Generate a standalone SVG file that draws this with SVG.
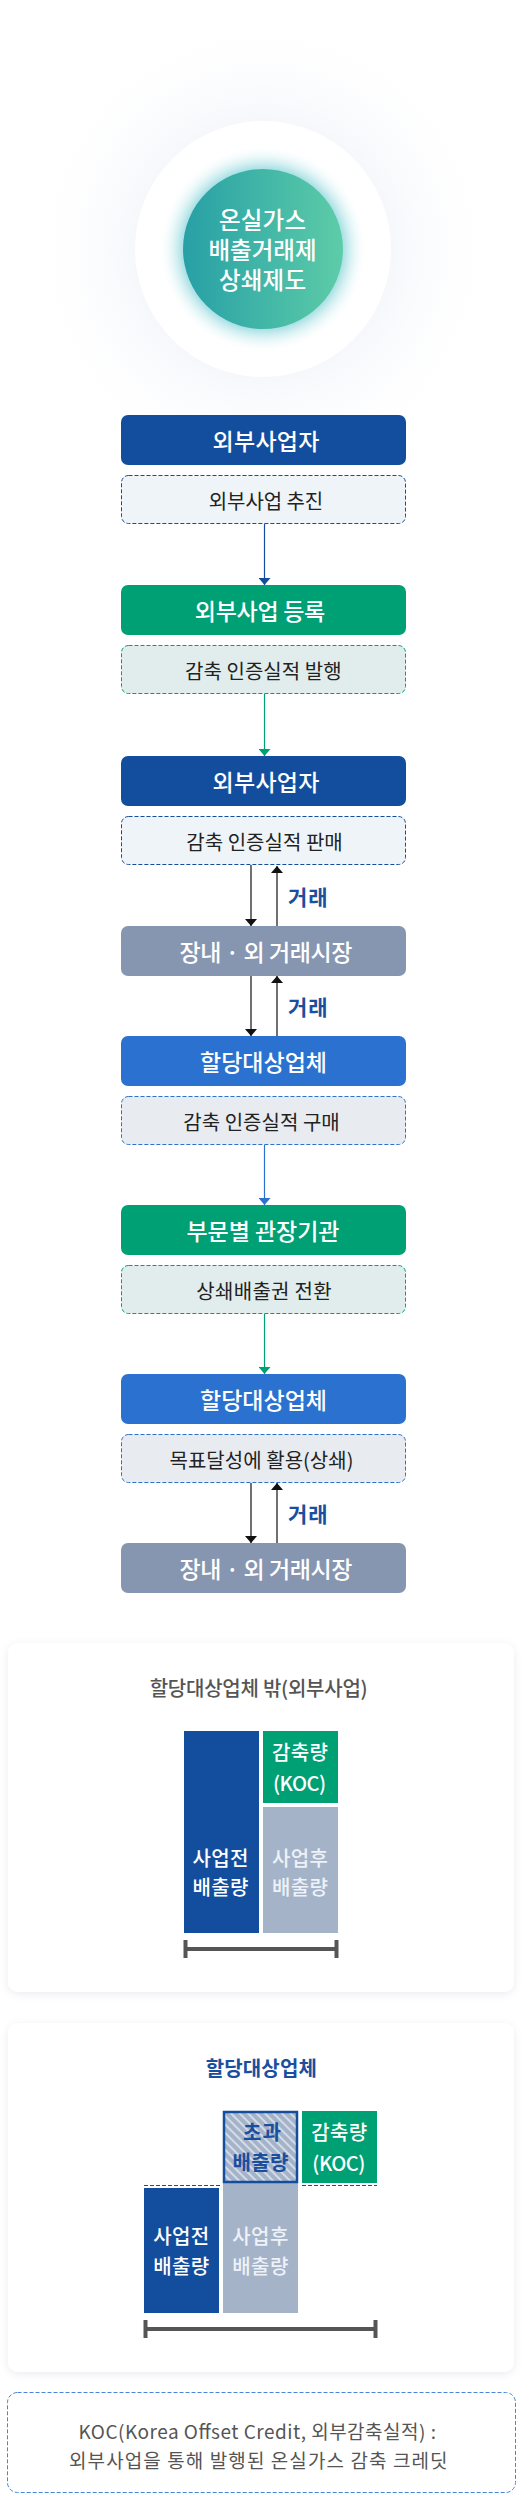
<svg xmlns="http://www.w3.org/2000/svg" width="529" height="2494" viewBox="0 0 529 2494">
<defs>
<radialGradient id="halo" cx="0.5" cy="0.5" r="0.5">
<stop offset="0.5" stop-color="#f4f6fb" stop-opacity="1"/>
<stop offset="1" stop-color="#ffffff" stop-opacity="0"/>
</radialGradient>
<radialGradient id="glow" cx="0.5" cy="0.5" r="0.5">
<stop offset="0.78" stop-color="#6ccbd3" stop-opacity="0.55"/>
<stop offset="1" stop-color="#ffffff" stop-opacity="0"/>
</radialGradient>
<linearGradient id="core" x1="0" y1="0" x2="1" y2="0">
<stop offset="0" stop-color="#27a0a6"/>
<stop offset="1" stop-color="#5dcca8"/>
</linearGradient>
<pattern id="hatch" width="6" height="6" patternUnits="userSpaceOnUse" patternTransform="rotate(-45)">
<rect width="6" height="6" fill="#a5b3c9"/>
<rect width="2" height="6" fill="#d3dbe7"/>
</pattern>
<filter id="shadow" x="-10%" y="-10%" width="120%" height="120%">
<feDropShadow dx="0" dy="2" stdDeviation="4" flood-color="#1a2a50" flood-opacity="0.08"/>
</filter>
<marker id="ahDark" viewBox="0 0 7 12" refX="7" refY="6" markerWidth="7" markerHeight="12" markerUnits="userSpaceOnUse" orient="auto"><path d="M0,0 L7,6 L0,12 z" fill="#134e9e"/></marker>
<marker id="ahGreen" viewBox="0 0 7 12" refX="7" refY="6" markerWidth="7" markerHeight="12" markerUnits="userSpaceOnUse" orient="auto"><path d="M0,0 L7,6 L0,12 z" fill="#00a075"/></marker>
<marker id="ahBlue" viewBox="0 0 7 12" refX="7" refY="6" markerWidth="7" markerHeight="12" markerUnits="userSpaceOnUse" orient="auto"><path d="M0,0 L7,6 L0,12 z" fill="#2b72d0"/></marker>
<marker id="ahBlack" viewBox="0 0 7 12" refX="7" refY="6" markerWidth="7" markerHeight="12" markerUnits="userSpaceOnUse" orient="auto"><path d="M0,0 L7,6 L0,12 z" fill="#111111"/></marker>
</defs>
<style>
text{font-family:"Noto Sans CJK KR","Noto Sans",sans-serif;text-anchor:middle;dominant-baseline:central}
.t-hub{font-size:23.5px;font-weight:500;fill:#ffffff}
.t-main{font-size:23px;font-weight:500;fill:#ffffff}
.t-sub{font-size:20px;font-weight:400;fill:#222222}
.t-deal{font-size:21px;font-weight:700;fill:#1a4fa0;text-anchor:start}
.b-dark{fill:#134e9e}
.b-green{fill:#00a075}
.b-gray{fill:#8796b0}
.b-blue{fill:#2b72d0}
.s-dark{fill:#eef4f8;stroke:#134e9e;stroke-width:1;stroke-dasharray:4 2}
.s-green{fill:#e1eded;stroke:#00a075;stroke-width:1;stroke-dasharray:4 2}
.s-blue{fill:#e8ebef;stroke:#2b72d0;stroke-width:1;stroke-dasharray:4 2}
.c-dark{stroke:#134e9e;stroke-width:1.2;fill:none}
.c-green{stroke:#00a075;stroke-width:1.2;fill:none}
.c-blue{stroke:#2b72d0;stroke-width:1.2;fill:none}
.c-black{stroke:#111111;stroke-width:1.2;fill:none}
.card{fill:#ffffff;filter:url(#shadow)}
.bar-text{font-size:20px;font-weight:500;fill:#ffffff}
.bar-soft{font-size:20px;font-weight:500;fill:#eef2f8}
.bar-hatch{font-size:20px;font-weight:700;fill:#1a4fa0}
.scale{stroke:#555555;fill:none;stroke-width:4}
.note-text{font-size:19px;font-weight:400;fill:#555555}
</style>
<rect width="529" height="2494" fill="#ffffff"/>

<g id="hub">
<circle cx="263" cy="249" r="235" fill="url(#halo)"/>
<circle cx="263" cy="249" r="128" fill="#ffffff"/>
<circle cx="263" cy="249" r="104" fill="url(#glow)"/>
<circle cx="263" cy="249" r="80" fill="url(#core)"/>
<text class="t-hub" x="262.5" y="219" textLength="87" lengthAdjust="spacing">온실가스</text>
<text class="t-hub" x="262.5" y="249" textLength="108" lengthAdjust="spacing">배출거래제</text>
<text class="t-hub" x="262.5" y="279" textLength="87" lengthAdjust="spacing">상쇄제도</text>
</g>

<g id="n1"><rect class="b-dark" x="121" y="415" width="285" height="50" rx="7"/><text class="t-main" x="266" y="440" textLength="107" lengthAdjust="spacing">외부사업자</text></g>
<g id="n1s"><rect class="s-dark" x="121.5" y="475.5" width="284" height="48" rx="7"/><text class="t-sub" x="266" y="500" textLength="114.5" lengthAdjust="spacing">외부사업 추진</text></g>
<g id="n2"><rect class="b-green" x="121" y="585" width="285" height="50" rx="7"/><text class="t-main" x="260" y="610" textLength="130.5" lengthAdjust="spacing">외부사업 등록</text></g>
<g id="n2s"><rect class="s-green" x="121.5" y="645.5" width="284" height="48" rx="7"/><text class="t-sub" x="263.3" y="670" textLength="156.5" lengthAdjust="spacing">감축 인증실적 발행</text></g>
<g id="n3"><rect class="b-dark" x="121" y="756" width="285" height="50" rx="7"/><text class="t-main" x="266" y="781" textLength="107" lengthAdjust="spacing">외부사업자</text></g>
<g id="n3s"><rect class="s-dark" x="121.5" y="816.5" width="284" height="48" rx="7"/><text class="t-sub" x="264.5" y="841" textLength="156.5" lengthAdjust="spacing">감축 인증실적 판매</text></g>
<g id="n4"><rect class="b-gray" x="121" y="926" width="285" height="50" rx="7"/><text class="t-main" x="266" y="951" textLength="173" lengthAdjust="spacing">장내 · 외 거래시장</text></g>
<g id="n5"><rect class="b-blue" x="121" y="1036" width="285" height="50" rx="7"/><text class="t-main" x="263.5" y="1061" textLength="127" lengthAdjust="spacing">할당대상업체</text></g>
<g id="n5s"><rect class="s-blue" x="121.5" y="1096.5" width="284" height="48" rx="7"/><text class="t-sub" x="261.5" y="1121" textLength="156.5" lengthAdjust="spacing">감축 인증실적 구매</text></g>
<g id="n6"><rect class="b-green" x="121" y="1205" width="285" height="50" rx="7"/><text class="t-main" x="263" y="1230" textLength="153" lengthAdjust="spacing">부문별 관장기관</text></g>
<g id="n6s"><rect class="s-green" x="121.5" y="1265.5" width="284" height="48" rx="7"/><text class="t-sub" x="264" y="1290" textLength="135.3" lengthAdjust="spacing">상쇄배출권 전환</text></g>
<g id="n7"><rect class="b-blue" x="121" y="1374" width="285" height="50" rx="7"/><text class="t-main" x="263.5" y="1399" textLength="127" lengthAdjust="spacing">할당대상업체</text></g>
<g id="n7s"><rect class="s-blue" x="121.5" y="1434.5" width="284" height="48" rx="7"/><text class="t-sub" x="261.5" y="1459" textLength="184" lengthAdjust="spacing">목표달성에 활용(상쇄)</text></g>
<g id="n8"><rect class="b-gray" x="121" y="1543" width="285" height="50" rx="7"/><text class="t-main" x="266" y="1568" textLength="173" lengthAdjust="spacing">장내 · 외 거래시장</text></g>

<g id="connectors">
<line class="c-dark" x1="264.5" y1="524" x2="264.5" y2="585" marker-end="url(#ahDark)"/>
<line class="c-green" x1="264.5" y1="694" x2="264.5" y2="756" marker-end="url(#ahGreen)"/>
<line class="c-black" x1="251" y1="865" x2="251" y2="926" marker-end="url(#ahBlack)"/>
<line class="c-black" x1="277" y1="926" x2="277" y2="866" marker-end="url(#ahBlack)"/>
<text class="t-deal" x="288" y="896" textLength="39.5" lengthAdjust="spacing">거래</text>
<line class="c-black" x1="251" y1="976" x2="251" y2="1036" marker-end="url(#ahBlack)"/>
<line class="c-black" x1="277" y1="1036" x2="277" y2="976" marker-end="url(#ahBlack)"/>
<text class="t-deal" x="288" y="1006" textLength="39.5" lengthAdjust="spacing">거래</text>
<line class="c-blue" x1="264.5" y1="1145" x2="264.5" y2="1205" marker-end="url(#ahBlue)"/>
<line class="c-green" x1="264.5" y1="1314" x2="264.5" y2="1374" marker-end="url(#ahGreen)"/>
<line class="c-black" x1="251" y1="1483" x2="251" y2="1543" marker-end="url(#ahBlack)"/>
<line class="c-black" x1="277" y1="1543" x2="277" y2="1483" marker-end="url(#ahBlack)"/>
<text class="t-deal" x="288" y="1513" textLength="39.5" lengthAdjust="spacing">거래</text>
</g>

<g id="card-outside">
<rect class="card" x="8" y="1643" width="506" height="349" rx="10"/>
<text x="258.7" y="1687" font-size="20" font-weight="500" fill="#555555" textLength="218" lengthAdjust="spacing">할당대상업체 밖(외부사업)</text>
<rect x="184" y="1731" width="75" height="202" fill="#134e9e"/>
<rect x="263" y="1731" width="75" height="72" fill="#00a075"/>
<rect x="263" y="1807" width="75" height="126" fill="#a5b3c9"/>
<text class="bar-text" x="220.5" y="1857" textLength="56" lengthAdjust="spacing">사업전</text>
<text class="bar-text" x="220.5" y="1886" textLength="56" lengthAdjust="spacing">배출량</text>
<text class="bar-text" x="300" y="1751" textLength="56" lengthAdjust="spacing">감축량</text>
<text class="bar-text" x="299.5" y="1782" textLength="53" lengthAdjust="spacing">(KOC)</text>
<text class="bar-soft" x="300" y="1857" textLength="56" lengthAdjust="spacing">사업후</text>
<text class="bar-soft" x="300" y="1886" textLength="56" lengthAdjust="spacing">배출량</text>
<line class="scale" x1="185" y1="1949" x2="337" y2="1949"/>
<line class="scale" x1="185.5" y1="1940" x2="185.5" y2="1958"/>
<line class="scale" x1="336.5" y1="1940" x2="336.5" y2="1958"/>
</g>

<g id="card-inside">
<rect class="card" x="8" y="2023" width="506" height="349" rx="10"/>
<text x="261.3" y="2067" font-size="20" font-weight="700" fill="#1a4fa0" textLength="111" lengthAdjust="spacing">할당대상업체</text>
<line x1="144" y1="2185.5" x2="221" y2="2185.5" stroke="#134e9e" stroke-width="1" stroke-dasharray="4 2"/>
<line x1="302" y1="2185.5" x2="377" y2="2185.5" stroke="#134e9e" stroke-width="1" stroke-dasharray="4 2"/>
<rect x="144" y="2188" width="75" height="125" fill="#134e9e"/>
<rect x="223" y="2183" width="75" height="130" fill="#a5b3c9"/>
<rect x="224" y="2112" width="73" height="70" fill="url(#hatch)" stroke="#134e9e" stroke-width="2.5"/>
<rect x="302" y="2111" width="75" height="72" fill="#00a075"/>
<text class="bar-hatch" x="262" y="2131" textLength="38" lengthAdjust="spacing">초과</text>
<text class="bar-hatch" x="260.5" y="2161" textLength="56" lengthAdjust="spacing">배출량</text>
<text class="bar-text" x="339.2" y="2131" textLength="56" lengthAdjust="spacing">감축량</text>
<text class="bar-text" x="338.8" y="2162" textLength="53" lengthAdjust="spacing">(KOC)</text>
<text class="bar-text" x="181.2" y="2235" textLength="56" lengthAdjust="spacing">사업전</text>
<text class="bar-text" x="181.2" y="2265" textLength="56" lengthAdjust="spacing">배출량</text>
<text class="bar-soft" x="260.3" y="2235" textLength="56" lengthAdjust="spacing">사업후</text>
<text class="bar-soft" x="260.3" y="2265" textLength="56" lengthAdjust="spacing">배출량</text>
<line class="scale" x1="145" y1="2329" x2="376" y2="2329"/>
<line class="scale" x1="145.5" y1="2320" x2="145.5" y2="2338"/>
<line class="scale" x1="375.5" y1="2320" x2="375.5" y2="2338"/>
</g>

<g id="note">
<rect x="7.5" y="2392.5" width="508" height="100" rx="10" fill="#ffffff" stroke="#4a86d8" stroke-width="1" stroke-dasharray="4 2"/>
<text class="note-text" x="257.2" y="2430" textLength="357.5" lengthAdjust="spacing">KOC(Korea Offset Credit, 외부감축실적) :</text>
<text class="note-text" x="258.3" y="2459" textLength="378.5" lengthAdjust="spacing">외부사업을 통해 발행된 온실가스 감축 크레딧</text>
</g>
</svg>
